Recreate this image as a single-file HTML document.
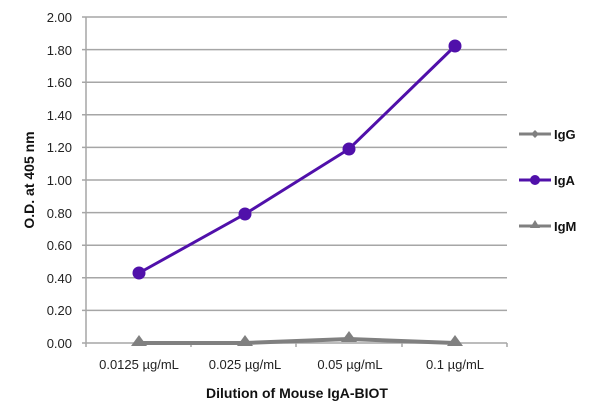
<!DOCTYPE html>
<html><head><style>body{margin:0;background:#fff}svg{display:block}</style></head><body>
<svg width="600" height="417" xmlns="http://www.w3.org/2000/svg" font-family="Liberation Sans, sans-serif">
<g stroke="#a6a6a6" stroke-width="1.5">
<line x1="82" y1="17" x2="507" y2="17"/><line x1="82" y1="49.6" x2="507" y2="49.6"/><line x1="82" y1="82.2" x2="507" y2="82.2"/><line x1="82" y1="114.8" x2="507" y2="114.8"/><line x1="82" y1="147.4" x2="507" y2="147.4"/><line x1="82" y1="180" x2="507" y2="180"/><line x1="82" y1="212.6" x2="507" y2="212.6"/><line x1="82" y1="245.2" x2="507" y2="245.2"/><line x1="82" y1="277.8" x2="507" y2="277.8"/><line x1="82" y1="310.4" x2="507" y2="310.4"/><line x1="82" y1="343" x2="507" y2="343"/>
<line x1="86" y1="17" x2="86" y2="347"/>
<line x1="191" y1="343" x2="191" y2="347"/><line x1="296" y1="343" x2="296" y2="347"/><line x1="402" y1="343" x2="402" y2="347"/><line x1="507" y1="343" x2="507" y2="347"/>
</g>
<g font-size="13" fill="#222" text-anchor="end">
<text x="72" y="22">2.00</text><text x="72" y="55">1.80</text><text x="72" y="87">1.60</text><text x="72" y="120">1.40</text><text x="72" y="152">1.20</text><text x="72" y="185">1.00</text><text x="72" y="218">0.80</text><text x="72" y="250">0.60</text><text x="72" y="283">0.40</text><text x="72" y="315">0.20</text><text x="72" y="348">0.00</text>
</g>
<g font-size="13" fill="#222" text-anchor="middle">
<text x="139" y="369">0.0125 µg/mL</text><text x="245" y="369">0.025 µg/mL</text><text x="350" y="369">0.05 µg/mL</text><text x="455" y="369">0.1 µg/mL</text>
</g>
<text x="297" y="398" font-size="14" font-weight="bold" text-anchor="middle" fill="#111">Dilution of Mouse IgA-BIOT</text>
<text transform="translate(34,180) rotate(-90)" font-size="14" font-weight="bold" text-anchor="middle" fill="#111">O.D. at 405 nm</text>
<polyline points="139,343 245,343 349,339 455,343" fill="none" stroke="#808080" stroke-width="4"/>
<g fill="#808080"><polygon points="139,335 147,346 131,346"/><polygon points="245,335 253,346 237,346"/><polygon points="349,331 357,342 341,342"/><polygon points="455,335 463,346 447,346"/></g>
<polyline points="139,273 245,214 349,149 455,46" fill="none" stroke="#5010aa" stroke-width="3"/>
<g fill="#5010aa"><circle cx="139" cy="273" r="6.5"/><circle cx="245" cy="214" r="6.5"/><circle cx="349" cy="149" r="6.5"/><circle cx="455" cy="46" r="6.5"/></g>
<line x1="519" y1="134" x2="551" y2="134" stroke="#808080" stroke-width="3"/><polygon points="535,130 539,134 535,138 531,134" fill="#808080"/>
<text x="554" y="139" font-size="13" font-weight="bold" fill="#111">IgG</text>
<line x1="519" y1="180" x2="551" y2="180" stroke="#5010aa" stroke-width="3"/><circle cx="535" cy="180" r="5" fill="#5010aa"/>
<text x="554" y="185" font-size="13" font-weight="bold" fill="#111">IgA</text>
<line x1="519" y1="226" x2="551" y2="226" stroke="#808080" stroke-width="3"/><polygon points="535,220 540,228 530,228" fill="#808080"/>
<text x="554" y="231" font-size="13" font-weight="bold" fill="#111">IgM</text>
</svg>
</body></html>
